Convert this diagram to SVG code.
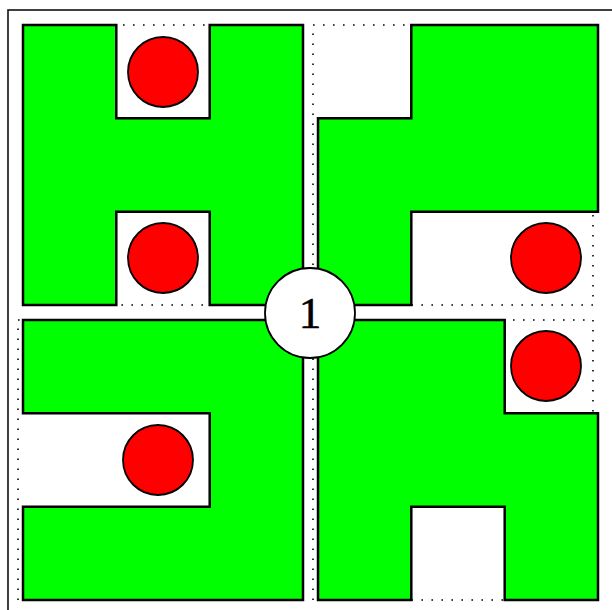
<svg xmlns="http://www.w3.org/2000/svg" width="612" height="610" viewBox="0 0 612 610">
<style>
.frame{fill:none;stroke:#111;stroke-width:1.6}
.dot{fill:none;stroke:#000;stroke-width:1.6;stroke-dasharray:1.6 8.4}
.green{fill:#00ff00;stroke:#000;stroke-width:2.5;stroke-linejoin:miter}
.ball{fill:#ff0000;stroke:#000;stroke-width:1.8}
.hub{fill:#fff;stroke:#000;stroke-width:1.8}
.lbl{font-family:"Liberation Serif","DejaVu Serif",serif;font-size:45px;fill:#000;stroke:#000;stroke-width:0.6;text-anchor:middle}
</style>
<rect class="frame" x="8" y="10" width="640" height="640"/>
<g id="quadrant-tl">
<rect class="dot" x="23" y="25" width="280" height="280"/>
<polygon class="green" points="23,25 116.3,25 116.3,118.3 209.7,118.3 209.7,25 303,25 303,305 209.7,305 209.7,211.7 116.3,211.7 116.3,305 23,305"/>
<circle class="ball" cx="163" cy="72" r="35"/>
<circle class="ball" cx="163" cy="258" r="35"/>
</g>
<g id="quadrant-tr">
<rect class="dot" x="313" y="25" width="280" height="280"/>
<polygon class="green" points="411.3,25 598,25 598,211.7 411.3,211.7 411.3,305 318,305 318,118.3 411.3,118.3"/>
<circle class="ball" cx="546" cy="258" r="35"/>
</g>
<g id="quadrant-bl">
<rect class="dot" x="18" y="320" width="280" height="280"/>
<polygon class="green" points="23,320 303,320 303,600 23,600 23,506.7 209.7,506.7 209.7,413.3 23,413.3"/>
<circle class="ball" cx="158" cy="460" r="35"/>
</g>
<g id="quadrant-br">
<rect class="dot" x="313" y="320" width="280" height="280"/>
<polygon class="green" points="318,320 504.7,320 504.7,413.3 598,413.3 598,600 504.7,600 504.7,506.7 411.3,506.7 411.3,600 318,600"/>
<circle class="ball" cx="546" cy="366" r="35"/>
</g>
<g id="hub">
<circle class="hub" cx="310" cy="313" r="45"/>
<text class="lbl" x="310" y="328">1</text>
</g>
<g id="connectors"></g>
</svg>
